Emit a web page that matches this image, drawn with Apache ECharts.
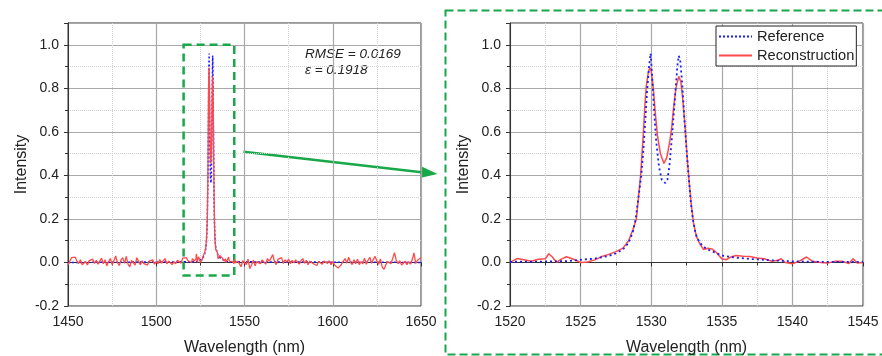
<!DOCTYPE html>
<html>
<head>
<meta charset="utf-8">
<script src="https://cdn.jsdelivr.net/npm/echarts@6/dist/echarts.min.js"></script>
<style>
  html, body { margin: 0; padding: 0; background: #fff; }
  #chart { width: 882px; height: 356px; }
</style>
</head>
<body>
<div id="chart"></div>
<script>
// broadband noise of the reconstruction, 1 nm steps
const lowStart = 1450; // 1450..1519
const lowNoise = [
  -0.01, 0.005, 0.022, 0.015, 0.025, 0.008, -0.005, 0.012, -0.01, -0.018,
  0.004, -0.012, 0.008, 0.002, 0.015, -0.005, 0.01, -0.008, 0.006, 0.02,
  -0.006, 0.012, -0.015, 0.004, 0.018, -0.01, 0.006, 0.03, 0.0, -0.014,
  0.012, 0.022, -0.004, 0.028, -0.008, -0.02, 0.01, 0.016, -0.012, 0.022,
  0.004, -0.01, 0.008, -0.005, 0.002, -0.012, 0.006, -0.002, 0.012, -0.008,
  0.004, -0.006, 0.014, -0.004, 0.008, 0.018, -0.006, 0.006, 0.012, -0.01,
  0.004, -0.006, 0.01, 0.002, -0.004, 0.02, 0.012, 0.022, 0.008, 0.015
];
const highStart = 1546; // 1546..1650
const highNoise = [
  0.006, -0.004, -0.02, 0.008, 0.012, -0.01, 0.015, -0.028, -0.012, 0.01,
  -0.015, 0.004, 0.01, -0.006, 0.012, 0.004, -0.008, 0.018, 0.006, 0.02,
  0.036, 0.004, -0.01, 0.015, 0.008, 0.022, -0.004, 0.012, 0.002, 0.016,
  -0.006, 0.01, -0.002, 0.012, 0.004, -0.008, 0.008, 0.018, -0.004, 0.01,
  -0.01, 0.006, 0.014, -0.006, 0.002, -0.014, 0.004, 0.01, -0.008, 0.006,
  0.012, -0.004, 0.008, -0.01, 0.004, -0.012, -0.02, -0.026, -0.018, -0.008,
  0.006, 0.018, -0.004, 0.024, 0.002, -0.01, 0.012, -0.006, 0.015, -0.01,
  0.004, -0.006, 0.02, -0.008, 0.01, 0.024, -0.004, 0.014, 0.028, 0.006,
  -0.008, 0.016, -0.02, -0.032, -0.012, 0.004, 0.012, -0.006, 0.02, 0.045,
  0.01, -0.006, 0.008, -0.012, -0.016, 0.006, -0.01, 0.004, -0.008, 0.012,
  0.044, -0.004, 0.01, 0.008, 0.022
];

// reconstruction around the peaks
const recWl = [
  1520, 1520.5, 1521, 1521.5, 1522, 1522.5, 1522.75, 1523, 1523.3, 1523.6,
  1524, 1524.5, 1525, 1525.5, 1526, 1526.5, 1527, 1527.5, 1528, 1528.4,
  1528.7, 1528.95, 1529.1, 1529.25, 1529.35, 1529.45, 1529.55, 1529.65, 1529.8, 1529.9,
  1530.0, 1530.15, 1530.3, 1530.45, 1530.65, 1530.9, 1531.1, 1531.3, 1531.45, 1531.6,
  1531.75, 1531.95, 1532.1, 1532.25, 1532.4, 1532.55, 1532.7, 1532.85, 1533.0, 1533.2,
  1533.45, 1533.7, 1534.0, 1534.3, 1534.6, 1535.0, 1535.3, 1535.6, 1536.0, 1536.5,
  1537.0, 1537.5, 1538.0, 1538.5, 1539.0, 1539.2, 1539.5, 1540.0, 1540.5, 1541.0,
  1541.4, 1542.0, 1542.5, 1543.0, 1543.5, 1544.0, 1544.3, 1544.6, 1545.0
];
const recVal = [
  0.0, 0.018, 0.012, 0.006, 0.015, 0.017, 0.04, 0.025, 0.0, 0.014,
  0.026, 0.015, 0.0, 0.002, 0.012, 0.027, 0.037, 0.05, 0.066, 0.1,
  0.15, 0.2, 0.3, 0.4, 0.5, 0.6, 0.72, 0.81, 0.875, 0.895,
  0.88, 0.8, 0.68, 0.58, 0.5, 0.455, 0.48, 0.55, 0.62, 0.72,
  0.8, 0.855, 0.83, 0.74, 0.62, 0.48, 0.36, 0.26, 0.18, 0.12,
  0.085, 0.06, 0.065, 0.062, 0.047, 0.017, 0.012, 0.024, 0.032, 0.029,
  0.027, 0.02, 0.017, 0.006, 0.01, 0.017, 0.0, -0.006, 0.006, 0.025,
  0.006, 0.0, -0.003, 0.005, 0.006, -0.005, 0.017, -0.003, 0.0
];

// reference spectrum
const refWl = [
  1450, 1520, 1522, 1524, 1525, 1526, 1527, 1527.5, 1528, 1528.4,
  1528.7, 1528.9, 1529.1, 1529.3, 1529.45, 1529.55, 1529.7, 1529.85, 1529.96, 1530.1,
  1530.2, 1530.35, 1530.55, 1530.75, 1531.0, 1531.15, 1531.3, 1531.5, 1531.7, 1531.85,
  1531.95, 1532.05, 1532.2, 1532.35, 1532.5, 1532.65, 1532.8, 1532.95, 1533.15, 1533.4,
  1533.7, 1534.0, 1534.5, 1535.0, 1536.0, 1537.0, 1538.0, 1539.0, 1540.0, 1542.0,
  1545.0, 1650
];
const refVal = [
  0.0, 0.003, 0.004, 0.006, 0.012, 0.018, 0.03, 0.042, 0.06, 0.09,
  0.14, 0.2, 0.3, 0.4, 0.52, 0.62, 0.78, 0.9, 0.96, 0.82,
  0.7, 0.56, 0.44, 0.38, 0.365, 0.38, 0.45, 0.6, 0.77, 0.9,
  0.95, 0.93, 0.82, 0.66, 0.52, 0.4, 0.28, 0.2, 0.13, 0.095,
  0.072, 0.06, 0.046, 0.032, 0.022, 0.016, 0.012, 0.008, 0.005, 0.003,
  0.003, 0.0
];

const rmseText = "RMSE = 0.0169";
const epsText = "\u03b5 = 0.1918";

const FONT = "Liberation Sans";
const GREEN = "#18a84a";
const BLUE = "#1a1aff";
const RED = "#ff4a4a";

const recFine = recWl.map((w, i) => [w, recVal[i]]);
const recFull = []
  .concat(lowNoise.map((v, i) => [lowStart + i, v]))
  .concat(recFine)
  .concat(highNoise.map((v, i) => [highStart + i, v]));
const refFull = refWl.map((w, i) => [w, refVal[i]]);
const refFine = refFull.filter((p) => p[0] >= 1520 && p[0] <= 1545);

function xAxisFor(gridIndex, min, max, interval) {
  return {
    type: "value",
    gridIndex: gridIndex,
    min: min,
    max: max,
    interval: interval,
    name: "Wavelength (nm)",
    nameLocation: "middle",
    nameGap: 34,
    nameTextStyle: { fontFamily: FONT, fontSize: 16, color: "#222" },
    axisLine: { lineStyle: { color: "#333", width: 1 } },
    axisTick: { show: true, length: 4, lineStyle: { color: "#333" } },
    minorTick: { show: true, splitNumber: 2, length: 3, lineStyle: { color: "#333" } },
    axisLabel: {
      fontFamily: FONT,
      fontSize: 14,
      color: "#222",
      margin: 9,
      formatter: (v) => String(v),
    },
    splitLine: { show: true, lineStyle: { color: "#a8a8a8", width: 1.2 } },
    minorSplitLine: { show: true, lineStyle: { color: "#d2d2d2", type: [1, 1] } },
  };
}

function yAxisFor(gridIndex) {
  return {
    type: "value",
    gridIndex: gridIndex,
    min: -0.2,
    max: 1.1,
    interval: 0.2,
    name: "Intensity",
    nameLocation: "middle",
    nameGap: 38,
    nameTextStyle: { fontFamily: FONT, fontSize: 16, color: "#222" },
    axisLine: { show: true, lineStyle: { color: "#333", width: 1 } },
    axisTick: { show: true, length: 4, lineStyle: { color: "#333" } },
    minorTick: { show: true, splitNumber: 2, length: 3, lineStyle: { color: "#333" } },
    axisLabel: {
      fontFamily: FONT,
      fontSize: 14,
      color: "#222",
      margin: 9,
      showMaxLabel: false,
      formatter: (v) => (v > 1.05 ? "" : v.toFixed(1)),
    },
    splitLine: { show: true, lineStyle: { color: "#a8a8a8", width: 1.2 } },
    minorSplitLine: { show: true, lineStyle: { color: "#d2d2d2", type: [1, 1] } },
  };
}

const chart = echarts.init(document.getElementById("chart"), null, { renderer: "canvas" });

// arrow from the zoom box to the right panel
const tail = [243.5, 151.7];
const tip = [437.5, 174];
const dx = tip[0] - tail[0], dy = tip[1] - tail[1];
const len = Math.sqrt(dx * dx + dy * dy);
const ux = dx / len, uy = dy / len;
const base = [tip[0] - 16 * ux, tip[1] - 16 * uy];

const option = {
  animation: false,
  backgroundColor: "#fff",
  grid: [
    {
      left: 68, right: 461, top: 23, bottom: 50,
      outerBoundsMode: "none",
      show: true, borderColor: "#333", borderWidth: 1,
    },
    {
      left: 510, right: 19, top: 23, bottom: 50,
      outerBoundsMode: "none",
      show: true, borderColor: "#333", borderWidth: 1,
    },
  ],
  xAxis: [xAxisFor(0, 1450, 1650, 50), xAxisFor(1, 1520, 1545, 5)],
  yAxis: [yAxisFor(0), yAxisFor(1)],
  legend: {
    orient: "vertical",
    left: 716,
    top: 26,
    data: ["Reference", "Reconstruction"],
    backgroundColor: "#fff",
    borderColor: "#222",
    borderWidth: 1,
    borderRadius: 0,
    padding: [3, 2, 3, 2],
    itemWidth: 33,
    itemHeight: 14,
    itemGap: 4,
    itemStyle: { opacity: 0 },
    textStyle: { fontFamily: FONT, fontSize: 14.6, color: "#222" },
  },
  series: [
    {
      name: "Reference",
      type: "line",
      xAxisIndex: 0,
      yAxisIndex: 0,
      data: refFull,
      symbol: "none",
      lineStyle: { color: BLUE, width: 1.5, type: [2, 2] },
      itemStyle: { color: BLUE },
      z: 2,
    },
    {
      name: "Reconstruction",
      type: "line",
      xAxisIndex: 0,
      yAxisIndex: 0,
      data: recFull,
      symbol: "none",
      lineStyle: { color: RED, width: 1.3 },
      itemStyle: { color: RED },
      z: 3,
      markArea: {
        silent: true,
        itemStyle: {
          color: "rgba(0,0,0,0)",
          borderColor: GREEN,
          borderWidth: 2.5,
          borderType: [8, 5],
        },
        data: [[{ coord: [1515.5, 1.0] }, { coord: [1544.2, -0.06] }]],
      },
    },
    {
      name: "Reconstruction",
      type: "line",
      xAxisIndex: 1,
      yAxisIndex: 1,
      data: recFine,
      symbol: "none",
      lineStyle: { color: RED, width: 1.5 },
      itemStyle: { color: RED },
      z: 2,
    },
    {
      name: "Reference",
      type: "line",
      xAxisIndex: 1,
      yAxisIndex: 1,
      data: refFine,
      symbol: "none",
      lineStyle: { color: BLUE, width: 1.8, type: [2, 3] },
      itemStyle: { color: BLUE },
      z: 3,
    },
  ],
  graphic: [
    {
      type: "text",
      left: 305,
      top: 46,
      style: {
        text: rmseText + "\n" + epsText,
        fontFamily: FONT,
        fontSize: 13.5,
        fontStyle: "italic",
        fill: "#222",
        lineHeight: 16,
      },
    },
    {
      type: "line",
      shape: { x1: tail[0], y1: tail[1], x2: base[0], y2: base[1] },
      style: { stroke: GREEN, lineWidth: 2.5 },
    },
    {
      type: "polygon",
      shape: {
        points: [
          tip,
          [base[0] - 5.5 * uy, base[1] + 5.5 * ux],
          [base[0] + 5.5 * uy, base[1] - 5.5 * ux],
        ],
      },
      style: { fill: GREEN },
    },
    {
      type: "rect",
      shape: { x: 445.5, y: 10.5, width: 445, height: 344 },
      style: { fill: "none", stroke: GREEN, lineWidth: 2, lineDash: [8, 4] },
      silent: true,
    },
  ],
};

chart.setOption(option);
</script>
</body>
</html>
